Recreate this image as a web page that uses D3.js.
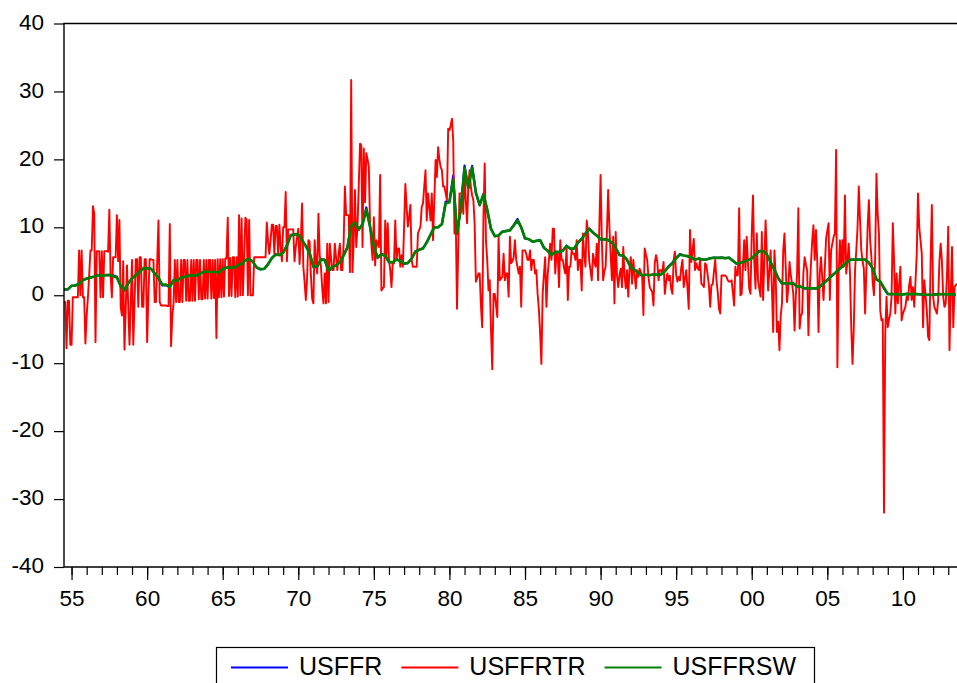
<!DOCTYPE html>
<html>
<head>
<meta charset="utf-8">
<script src="https://cdn.jsdelivr.net/npm/d3@7"></script>
<style>
  body { margin: 0; background: #fff; }
  svg { display: block; }
  text { font-family: "Liberation Sans", Arial, sans-serif; fill: #000; }
</style>
</head>
<body>
<svg id="chart" width="957" height="683"></svg>
<script>
// legend / series
const seriesNames = ["USFFR", "USFFRTR", "USFFRSW"];
const seriesColors = ["#0000ff", "#ff0000", "#008000"];

// axis ticks
const yTicks = [-40, -30, -20, -10, 0, 10, 20, 30, 40];
const xLabelYears = [1955, 1960, 1965, 1970, 1975, 1980, 1985, 1990, 1995, 2000, 2005, 2010];
const xLabels = ["55", "60", "65", "70", "75", "80", "85", "90", "95", "00", "05", "10"];
const xMinorYears = d3.range(1955, 2014);

// USFFR, readings at Jan/Apr/Jul/Oct, first one 1954 Jul
const usffrStart = 1954.5, usffrStep = 0.25;
const usffr = [
  0.80, 0.85,
  1.39, 1.43, 1.68, 2.24,  2.45, 2.62, 2.75, 2.96,  2.84, 2.96, 3.00, 2.96,  2.72, 1.26, 0.68, 1.80,
  2.48, 2.96, 3.47, 3.98,  3.99, 3.92, 3.23, 2.47,  1.45, 1.49, 1.17, 2.26,  2.15, 2.69, 2.71, 2.90,
  2.92, 2.90, 3.18, 3.50,  3.48, 3.43, 3.42, 3.36,  3.90, 4.07, 4.09, 4.08,  4.42, 4.65, 5.17, 5.40,
  4.94, 4.05, 3.79, 3.88,  4.61, 5.50, 6.02, 5.92,  6.30, 7.41, 8.90, 8.97,  8.98, 8.11, 7.21, 6.20,
  4.14, 4.15, 5.31, 5.20,  3.50, 4.17, 4.40, 4.87,  5.94, 7.12, 10.40, 10.78,  9.65, 10.51, 12.92, 10.06,
  7.13, 5.49, 6.10, 5.82,  4.87, 4.82, 5.31, 5.03,  4.61, 4.73, 5.42, 6.47,  6.70, 6.90, 7.81, 8.96,
  10.07, 10.01, 10.47, 13.77,  13.82, 17.61, 9.03, 12.81,  19.08, 15.72, 19.04, 15.08,  13.22, 14.94, 12.59, 9.71,
  8.68, 8.80, 9.37, 9.48,  9.56, 10.32, 11.23, 9.99,  8.35, 8.27, 7.88, 8.00,  8.14, 6.99, 6.56, 5.85,
  6.43, 6.36, 6.58, 7.29,  6.83, 6.87, 7.75, 8.30,  9.12, 9.84, 9.24, 8.78,  8.23, 8.26, 8.15, 7.74,
  6.91, 5.91, 5.82, 5.21,  4.03, 3.73, 3.25, 2.86,  3.02, 2.96, 3.06, 2.99,  3.05, 3.56, 4.26, 4.76,
  5.53, 6.05, 5.85, 5.76,  5.56, 5.22, 5.40, 5.24,  5.25, 5.45, 5.54, 5.50,  5.56, 5.45, 5.54, 5.07,
  4.63, 4.74, 4.99, 5.20,  5.45, 6.02, 6.54, 6.51,  5.98, 4.80, 3.77, 2.49,  1.73, 1.75, 1.73, 1.75,
  1.24, 1.26, 1.01, 1.01,  1.00, 1.00, 1.26, 1.76,  2.28, 2.79, 3.26, 3.78,  4.29, 4.79, 5.24, 5.25,
  5.25, 5.25, 5.26, 4.76,  3.94, 2.28, 2.01, 0.97,  0.15, 0.15, 0.16, 0.12,  0.11, 0.20, 0.18, 0.19,
  0.17, 0.10, 0.07, 0.07,  0.08, 0.14, 0.16, 0.16,  0.14, 0.15, 0.09
];

// USFFRSW, same dates as USFFR
const usffrsw = [
  0.85, 0.90,
  1.40, 1.45, 1.70, 2.22,  2.45, 2.60, 2.75, 2.94,  2.85, 2.95, 2.98, 2.80,  2.60, 1.40, 0.75, 1.80,
  2.45, 2.95, 3.45, 3.95,  3.98, 3.90, 3.20, 2.60,  1.55, 1.55, 1.25, 2.20,  2.15, 2.65, 2.70, 2.90,
  2.90, 2.90, 3.15, 3.48,  3.46, 3.42, 3.42, 3.38,  3.88, 4.05, 4.08, 4.08,  4.40, 4.62, 5.10, 5.35,
  4.90, 4.10, 3.85, 3.90,  4.55, 5.45, 5.98, 5.92,  6.25, 7.30, 8.80, 8.95,  8.95, 8.10, 7.25, 6.25,
  4.25, 4.20, 5.25, 5.20,  3.60, 4.15, 4.40, 4.85,  5.85, 7.00, 10.20, 10.70,  9.70, 10.40, 12.60, 10.10,
  7.20, 5.55, 6.05, 5.82,  4.90, 4.85, 5.28, 5.05,  4.65, 4.75, 5.40, 6.40,  6.68, 6.90, 7.78, 8.90,
  10.00, 10.00, 10.45, 13.50,  13.70, 17.00, 9.20, 12.60,  18.70, 15.80, 18.80, 15.10,  13.30, 14.80, 12.60, 9.80,
  8.70, 8.80, 9.35, 9.45,  9.55, 10.25, 11.00, 10.00,  8.40, 8.25, 7.90, 8.00,  8.10, 7.00, 6.55, 5.90,
  6.40, 6.35, 6.55, 7.25,  6.85, 6.88, 7.72, 8.28,  9.05, 9.75, 9.20, 8.78,  8.22, 8.25, 8.15, 7.75,
  6.95, 5.95, 5.82, 5.22,  4.10, 3.75, 3.28, 2.90,  3.02, 2.97, 3.05, 3.00,  3.06, 3.52, 4.20, 4.72,
  5.45, 5.98, 5.85, 5.76,  5.55, 5.25, 5.40, 5.25,  5.26, 5.44, 5.52, 5.50,  5.55, 5.46, 5.52, 5.10,
  4.68, 4.75, 4.98, 5.18,  5.42, 5.98, 6.48, 6.50,  6.00, 4.85, 3.80, 2.55,  1.78, 1.76, 1.73, 1.74,
  1.28, 1.26, 1.03, 1.01,  1.00, 1.01, 1.25, 1.74,  2.25, 2.76, 3.24, 3.75,  4.25, 4.75, 5.20, 5.24,
  5.25, 5.25, 5.24, 4.80,  3.98, 2.35, 2.02, 1.10,  0.20, 0.16, 0.16, 0.13,  0.12, 0.19, 0.18, 0.19,
  0.17, 0.11, 0.08, 0.07,  0.09, 0.14, 0.16, 0.16,  0.14, 0.14, 0.10
];

// USFFRTR, monthly from 1954 Jul to 2013 Aug
const usffrtrStart = 1954.5, usffrtrStep = 1 / 12;
const usffrtr = [
  -1.0, -1.0, -7.8, -0.8, -0.8, -7.3, // 1954 Jul-Dec
  -7.3, -0.3, -0.3, -0.3, -0.3, -0.3, 6.6, 0.0, 6.6, -0.3, -0.3, -7.1, // 1955
  -3.0, -0.3, 3.0, 6.6, 6.6, 13.1, 12.0, -6.9, 6.5, 6.5, 6.5, -0.3,
  6.5, -0.3, 6.5, 6.5, 6.5, 6.4, 12.6, 3.0, -0.3, 5.6, 5.6, 5.6,
  11.8, 5.0, 11.1, -1.7, -3.0, 5.0, -8.0, -2.0, 4.4, -1.5, -7.3, -1.0,
  5.2, -7.3, -1.0, 5.3, 5.3, -1.7, 5.6, 5.6, -1.7, -1.7, 5.3, 5.3,
  -6.9, 0.0, 5.3, 5.3, 5.2, 5.2, -1.0, -1.0, 5.0, 11.0, -1.0, -1.5, // 1960
  -1.5, -1.5, -1.5, -1.5, -1.6, -1.6, 10.5, -7.5, -3.0, -1.2, 5.2, -1.0,
  5.2, -1.0, -1.0, 5.2, -1.0, 5.2, 5.2, -0.8, 5.2, -0.8, -0.8, 5.2,
  -0.8, 5.2, -0.8, 5.2, 5.2, -0.6, 5.2, -0.6, -0.6, 5.2, -0.5, 5.2,
  -0.5, 5.2, 5.2, -0.5, 5.2, -0.4, 5.2, -6.3, 5.3, -0.3, 5.3, -0.3,
  5.3, -0.2, 5.4, 5.4, 11.4, -0.1, 5.5, -0.1, 5.6, 5.6, -0.3, 5.6, // 1965
  -0.2, 11.8, 0.0, 11.3, 0.0, 5.6, 11.4, 11.1, 0.0, 11.1, 0.0, 0.0,
  0.0, 5.6, 5.6, 5.6, 5.6, 5.6, 5.6, 5.6, 5.6, 5.6, 5.6, 10.7,
  8.0, 6.1, 8.0, 10.4, 10.4, 6.1, 10.2, 10.2, 6.1, 10.4, 7.0, 5.0,
  10.0, 10.0, 15.2, 5.0, 9.7, 9.7, 9.7, 9.7, 9.7, 5.0, 7.1, 8.5,
  9.8, 4.6, 8.0, 13.5, 4.2, 2.0, -0.7, 2.5, 8.1, 7.9, 3.0, -0.5, // 1970
  -1.2, 8.1, 5.0, 3.2, 12.0, 6.0, 4.2, 1.0, -1.2, 3.2, -1.2, 7.6,
  -1.0, 7.6, 5.5, 3.7, 3.7, 7.6, 5.5, 3.7, 6.0, 7.6, 3.7, 3.7,
  7.6, 16.0, 11.8, 11.8, 11.8, 3.4, 31.7, 3.4, 8.0, 15.5, 7.1, 10.1,
  16.0, 22.3, 22.1, 7.1, 21.6, 13.7, 20.9, 20.0, 18.9, 10.1, 7.5, 5.2,
  11.5, 4.4, 8.1, 7.6, 7.1, 17.7, 0.7, 1.0, 1.2, 11.0, 5.6, 10.6, // 1975
  5.2, 3.7, 1.2, 4.7, 4.7, 11.0, 5.2, 6.9, 6.9, 4.2, 5.9, 4.2,
  10.0, 16.4, 13.0, 10.1, 11.5, 13.3, 5.2, 4.2, 4.2, 4.2, 4.2, 9.1,
  9.6, 10.1, 13.0, 13.5, 16.0, 18.4, 11.0, 15.0, 13.0, 11.0, 15.0, 8.1,
  14.0, 19.9, 17.4, 21.8, 20.0, 18.9, 18.4, 16.0, 16.0, 15.0, 14.0, 24.5,
  24.3, 25.0, 26.0, 22.8, 9.1, 11.5, -2.0, 7.0, 15.0, 15.0, 15.0, 12.0, // 1980
  18.4, 14.0, 10.6, 16.0, 18.4, 16.0, 14.7, 14.0, 10.6, 2.0, 2.5, 3.2,
  3.2, -1.5, -4.7, 11.5, 19.4, 8.0, 5.2, 0.7, 2.2, -5.0, -10.9, 0.2,
  0.2, -1.5, -3.2, 8.6, 2.2, 2.5, 2.7, 6.1, 2.2, 3.2, 3.2, -0.2,
  8.6, 4.7, 5.0, 5.6, 8.1, 5.2, 4.2, 3.2, 4.2, -1.7, 6.6, 6.6,
  6.6, 6.1, 5.2, 5.2, 6.6, 3.7, 5.2, 5.2, 3.2, 3.7, 0.2, -2.0, // 1985
  -5.6, -10.1, 0.2, 3.0, 5.6, -1.7, 3.0, 5.2, 7.6, 5.2, 9.8, 9.8,
  3.2, 6.1, 6.1, 1.2, 8.1, 5.2, 5.2, 4.0, 3.2, 7.1, -0.7, 4.2,
  4.2, 6.6, 6.1, 6.1, 5.2, 8.1, 3.7, 5.2, 5.2, 0.7, 9.1, 6.0,
  4.2, 11.0, 9.1, 5.0, 3.7, 2.2, 6.1, 5.0, 4.2, 7.6, 2.2, 10.0,
  17.7, 8.1, 2.2, 3.5, 4.2, 9.1, 15.5, 10.1, 6.0, 2.2, 8.6, -1.2, // 1990
  9.3, 3.0, 1.2, 3.0, 3.9, 1.2, 7.1, 3.0, 1.0, 3.7, -0.2, 4.0,
  5.6, 1.7, 5.2, 3.0, 1.0, 3.7, 2.7, 3.9, 3.4, 2.9, -2.9, 6.9,
  6.0, 5.2, 2.7, 1.2, 0.8, 0.5, -1.5, 4.7, 5.9, 5.0, 2.2, 3.7,
  3.7, 3.4, 4.9, 0.2, 2.0, 3.2, 2.2, 2.9, 1.0, 0.2, 5.2, 6.4,
  3.0, 2.0, 2.7, 2.2, 4.0, 5.2, 1.2, 2.5, 3.7, 1.0, -2.0, 9.6, // 1995
  4.9, 6.5, 8.3, 3.7, 4.7, 4.0, 3.7, 5.4, 1.7, 1.5, 1.2, 4.7,
  4.4, 3.0, 1.5, -1.7, 1.5, 1.6, 3.5, 5.2, 2.2, 0.5, -2.0, -2.7,
  2.9, 2.9, 2.9, 2.9, 2.7, 2.2, 2.0, 2.0, 2.2, 0.5, -1.5, 4.2,
  2.9, 3.0, 12.8, 0.0, 0.2, 4.0, 8.1, 3.7, 8.6, 4.7, 1.0, 0.2,
  9.1, 14.7, 5.0, 1.0, 9.1, 2.2, 1.0, -0.2, 9.3, -0.7, 5.0, 11.0, // 2000
  6.1, 0.7, 3.5, 6.6, 1.2, -5.4, 6.6, 3.0, -5.4, -3.9, -8.1, -3.0,
  -1.2, 6.6, 9.1, 4.0, -1.0, 1.0, 4.9, 3.0, 1.7, 0.2, -5.2, 0.0,
  3.2, 12.8, -4.9, -3.0, -2.7, 3.2, 5.6, 4.5, 3.7, -5.9, 0.7, 4.5,
  8.1, 10.3, 5.2, 9.6, 5.0, -5.4, 3.2, 5.6, 2.5, -0.7, 3.9, 8.3,
  9.5, 10.6, -0.7, 6.6, 7.6, 8.6, 9.1, 21.4, -10.6, 3.2, 8.1, 4.2, // 2005
  8.1, 4.2, 14.7, 3.2, 5.0, 7.6, 3.2, -4.7, -10.1, -5.0, 3.7, 6.6,
  10.0, 16.0, 11.0, 6.6, 5.0, 3.9, -2.7, 3.7, 10.0, 14.0, 8.1, 5.6,
  2.0, 0.0, 5.6, 17.9, 12.0, 9.1, -2.2, -3.7, -3.5, -32.0, -5.6, -0.2,
  -4.7, -3.5, -2.7, -0.2, 10.6, 5.0, -2.7, 3.2, -1.2, 1.5, 4.2, -3.7,
  -2.7, -2.2, -1.7, -0.2, -0.7, 1.5, 2.7, -0.7, 1.2, -1.7, 2.0, 6.1, // 2010
  15.0, 10.0, 8.1, 6.1, -4.7, 2.2, 0.0, -2.2, -6.1, -6.6, 5.0, 13.3,
  -0.2, -1.7, -2.2, -2.7, -0.7, 5.0, 7.6, 5.0, -0.2, -1.7, -1.2, 3.0,
  10.1, -8.1, 0.0, 7.1, -4.7, 1.2, 1.5, 1.7 // 2013 Jan-Aug
];

// chart
const width = 957, height = 683;
const plotLeft = 64, plotTop = 23.5, plotBottom = 567;

const svg = d3.select("#chart");

const x = d3.scaleLinear().domain([1954.5, 2013.58]).range([plotLeft, width]);
const y = d3.scaleLinear().domain([-40, 40]).range([plotBottom, plotTop]);

const toPoints = (values, start, step) => values.map((v, i) => ({ t: start + i * step, v: v }));

const series = [
  { name: seriesNames[0], color: seriesColors[0], width: 2.2, data: toPoints(usffr, usffrStart, usffrStep) },
  { name: seriesNames[1], color: seriesColors[1], width: 1.9, data: toPoints(usffrtr, usffrtrStart, usffrtrStep) },
  { name: seriesNames[2], color: seriesColors[2], width: 2.7, data: toPoints(usffrsw, usffrStart, usffrStep) }
];

// y axis (plain hyphen for negatives, like the original)
const yAxis = svg.append("g")
  .attr("transform", `translate(${plotLeft},0)`)
  .call(d3.axisLeft(y).tickValues(yTicks).tickSize(10).tickPadding(10).tickFormat(d => String(d)));
yAxis.select(".domain").remove();
yAxis.selectAll("line").attr("stroke", "#000").attr("stroke-width", 1.2);
yAxis.selectAll("text")
  .attr("dy", "0.25em")
  .style("font-size", "22.5px")
  .style("font-family", '"Liberation Sans", Arial, sans-serif');

// x axis: yearly minor ticks + labelled ticks every 5 years
const xMinor = svg.append("g")
  .attr("transform", `translate(0,${plotBottom})`)
  .call(d3.axisBottom(x).tickValues(xMinorYears).tickSize(8).tickFormat(""));
xMinor.select(".domain").remove();
xMinor.selectAll("line").attr("stroke", "#000").attr("stroke-width", 1.2);

const xAxis = svg.append("g")
  .attr("transform", `translate(0,${plotBottom})`)
  .call(d3.axisBottom(x).tickValues(xLabelYears).tickSize(13).tickPadding(10)
    .tickFormat((d, i) => xLabels[i]));
xAxis.select(".domain").remove();
xAxis.selectAll("line").attr("stroke", "#000").attr("stroke-width", 1.2);
xAxis.selectAll("text")
  .style("font-size", "22.5px")
  .style("font-family", '"Liberation Sans", Arial, sans-serif');

// series lines
const line = d3.line().x(d => x(d.t)).y(d => y(d.v));
svg.append("g")
  .selectAll("path")
  .data(series)
  .enter()
  .append("path")
  .attr("fill", "none")
  .attr("stroke", d => d.color)
  .attr("stroke-width", d => d.width)
  .attr("stroke-linejoin", "round")
  .attr("d", d => line(d.data));

// frame (open on the right, cut by the window)
svg.append("path")
  .attr("fill", "none")
  .attr("stroke", "#000")
  .attr("stroke-width", 1.4)
  .attr("d", `M${width + 5},${plotTop}H${plotLeft}V${plotBottom}H${width + 5}`);

// legend
const legend = svg.append("g");
legend.append("rect")
  .attr("x", 216.5).attr("y", 647.5)
  .attr("width", 598).attr("height", 60)
  .attr("fill", "#fff").attr("stroke", "#000").attr("stroke-width", 1.2);

let lx = 231;
series.forEach(s => {
  legend.append("line")
    .attr("x1", lx).attr("x2", lx + 57)
    .attr("y1", 667.5).attr("y2", 667.5)
    .attr("stroke", s.color).attr("stroke-width", 2);
  const t = legend.append("text")
    .attr("x", lx + 68).attr("y", 675)
    .style("font-size", "25px")
    .text(s.name);
  lx += 68 + t.node().getComputedTextLength() + 19;
});
</script>
</body>
</html>
